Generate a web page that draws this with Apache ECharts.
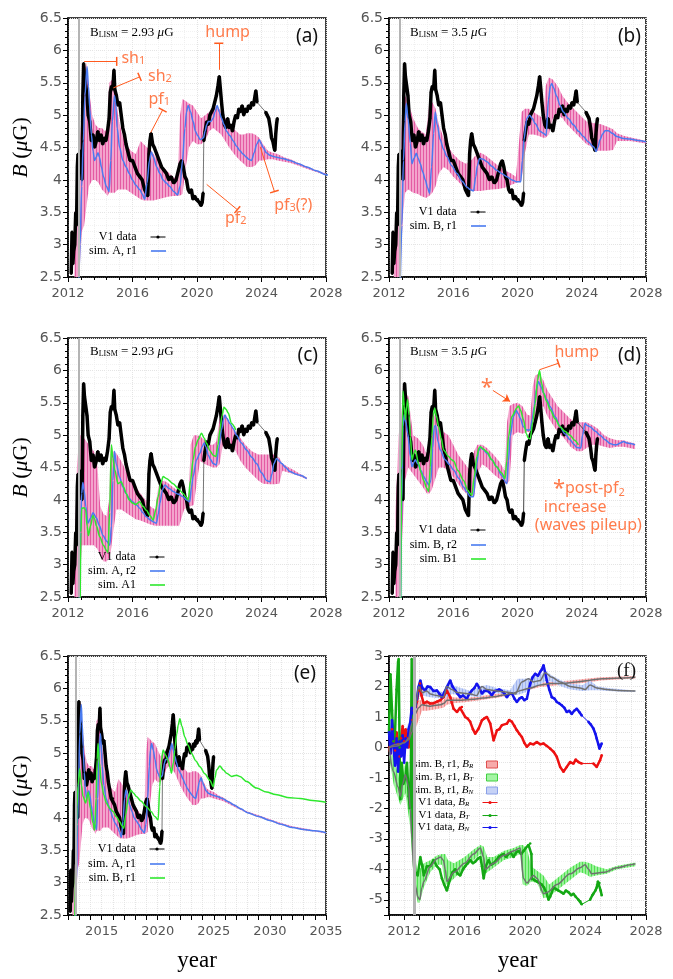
<!DOCTYPE html>
<html>
<head>
<meta charset="utf-8">
<script src="https://cdn.jsdelivr.net/npm/echarts@6/dist/echarts.min.js"></script>
<style>
html, body { margin: 0; padding: 0; background: #fff; }
#chart { width: 673px; height: 979px; }
</style>
</head>
<body>
<div id="chart"></div>
<script>
// V1 |B| data (muG), null marks a data gap
const v1Mag = [[2012.20,2.55],[2012.25,3.2],[2012.3,2.7],[2012.35,2.9],[2012.42,3.0],[2012.48,3.5],[2012.53,3.3],[2012.58,4.2],[2012.62,4.4],[2012.68,4.35],[2012.75,4.2],[2012.8,4.45],[2012.87,4.0],[2012.92,5.3],[2012.97,5.8],[2013.02,5.6],[2013.1,5.45],[2013.18,5.3],[2013.25,5.0],[2013.35,4.9],[2013.45,4.6],[2013.55,4.7],[2013.65,4.5],[2013.75,4.6],[2013.85,4.75],[2013.95,4.6],[2014.05,4.7],[2014.15,4.55],[2014.25,4.65],[2014.35,4.6],[2014.45,4.75],[2014.55,4.95],[2014.62,5.35],[2014.7,5.45],[2014.78,5.4],[2014.85,5.7],[2014.9,5.4],[2015.0,5.3],[2015.1,5.15],[2015.2,5.2],[2015.3,5.0],[2015.4,4.8],[2015.5,4.7],[2015.6,4.55],[2015.7,4.45],[2015.85,4.3],[2016.0,4.3],[2016.15,4.2],[2016.3,4.1],[2016.45,4.05],[2016.6,4.0],[2016.75,3.85],[2016.85,3.8],[2016.95,3.75],[2017.02,4.4],[2017.08,4.6],[2017.15,4.72],[2017.25,4.55],[2017.35,4.5],[2017.5,4.4],[2017.65,4.3],[2017.8,4.2],[2017.95,4.15],[2018.1,4.1],[2018.25,4.0],[2018.4,4.05],[2018.55,3.95],[2018.7,4.0],[2018.85,4.15],[2018.95,4.25],[2019.05,4.3],[2019.15,4.2],[2019.25,4.05],[2019.35,4.0],[2019.45,3.85],[2019.55,3.8],[2019.65,3.85],[2019.75,3.7],[2019.85,3.75],[2019.95,3.7],[2020.05,3.7],[2020.15,3.65],[2020.25,3.6],[2020.32,3.65],[2020.38,3.8],null,[2020.42,4.6],[2020.5,4.75],[2020.6,4.9],[2020.7,4.85],[2020.8,5.0],[2020.9,5.05],[2021.0,5.1],[2021.1,5.2],[2021.2,5.3],[2021.3,5.45],[2021.38,5.6],[2021.45,5.4],[2021.52,5.2],[2021.6,5.0],[2021.7,4.85],[2021.8,4.8],[2021.9,4.95],[2022.0,4.8],[2022.1,4.85],[2022.2,4.75],[2022.3,4.9],[2022.4,5.0],[2022.5,4.95],[2022.6,5.1],[2022.7,5.05],[2022.8,5.15],[2022.9,5.0],[2023.0,5.1],[2023.1,5.05],[2023.2,5.15],[2023.3,5.1],[2023.4,5.2],[2023.5,5.15],[2023.6,5.3],[2023.65,5.38],[2023.72,5.2],null,[2024.25,5.05],[2024.35,5.0],[2024.45,4.95],[2024.55,4.8],[2024.62,4.65],[2024.7,4.6],[2024.78,4.5],[2024.83,4.45],[2024.88,4.7],[2024.93,4.85],[2024.98,4.95]];

const hpCrossing = 2012.65;

// simulated |B| curves
const simAr1 = [[2012.66,2.3],[2012.75,3.0],[2012.85,3.9],[2012.95,4.6],[2013.05,5.3],[2013.18,5.75],[2013.27,5.45],[2013.35,5.1],[2013.45,4.7],[2013.55,4.45],[2013.65,4.3],[2013.75,4.35],[2013.86,4.42],[2013.95,4.35],[2014.07,4.2],[2014.2,4.05],[2014.38,3.9],[2014.55,3.82],[2014.65,4.3],[2014.75,4.9],[2014.88,5.3],[2014.95,5.2],[2015.05,4.8],[2015.2,4.5],[2015.4,4.3],[2015.6,4.2],[2015.8,4.1],[2016.0,4.0],[2016.2,3.92],[2016.45,3.85],[2016.6,3.78],[2016.76,3.7],[2016.9,3.95],[2017.05,4.3],[2017.17,4.43],[2017.3,4.35],[2017.5,4.2],[2017.7,4.1],[2017.9,4.0],[2018.1,3.95],[2018.3,3.9],[2018.55,3.82],[2018.8,3.77],[2018.95,3.9],[2019.1,4.3],[2019.25,4.8],[2019.35,5.05],[2019.45,5.15],[2019.6,5.05],[2019.76,4.9],[2019.9,4.75],[2020.05,4.68],[2020.2,4.62],[2020.4,4.65],[2020.5,4.75],[2020.6,4.85],[2020.7,4.9],[2020.85,4.9],[2021.0,4.95],[2021.12,5.05],[2021.25,5.15],[2021.38,5.05],[2021.52,4.95],[2021.68,4.85],[2021.83,4.75],[2022.05,4.68],[2022.25,4.6],[2022.45,4.52],[2022.66,4.45],[2022.85,4.4],[2023.07,4.35],[2023.2,4.32],[2023.38,4.3],[2023.55,4.42],[2023.7,4.55],[2023.86,4.62],[2024.0,4.55],[2024.1,4.5],[2024.3,4.42],[2024.52,4.38],[2024.75,4.36],[2024.93,4.35],[2025.3,4.33],[2025.76,4.3],[2026.3,4.25],[2026.8,4.2],[2027.4,4.14],[2028.0,4.08],[2029,4.02],[2030,3.96],[2031,3.9],[2032,3.85],[2033,3.82],[2034,3.8],[2035,3.77]];

const simBr1 = [[2012.7,2.4],[2012.8,3.3],[2012.9,4.3],[2013.0,4.9],[2013.08,5.18],[2013.18,4.95],[2013.33,4.56],[2013.43,4.25],[2013.55,4.33],[2013.7,4.41],[2013.82,4.33],[2013.95,4.25],[2014.1,4.12],[2014.26,4.0],[2014.4,3.88],[2014.53,3.79],[2014.65,4.2],[2014.78,4.72],[2014.88,5.05],[2015.0,4.85],[2015.19,4.62],[2015.4,4.47],[2015.6,4.36],[2015.9,4.22],[2016.23,4.1],[2016.55,3.98],[2016.85,3.89],[2017.05,3.85],[2017.26,3.83],[2017.4,4.05],[2017.5,4.22],[2017.64,4.33],[2017.85,4.32],[2018.1,4.28],[2018.4,4.21],[2018.7,4.15],[2019.0,4.1],[2019.34,4.05],[2019.65,4.0],[2019.96,3.97],[2020.2,3.97],[2020.3,4.3],[2020.4,4.62],[2020.58,4.95],[2020.75,5.0],[2020.92,4.95],[2021.1,4.87],[2021.4,4.75],[2021.6,4.72],[2021.78,4.69],[2021.93,5.24],[2022.05,5.45],[2022.13,5.49],[2022.25,5.42],[2022.44,5.29],[2022.65,5.15],[2022.86,5.05],[2023.15,4.95],[2023.48,4.85],[2023.8,4.75],[2024.1,4.67],[2024.4,4.59],[2024.73,4.51],[2024.9,4.44],[2025.0,4.5],[2025.14,4.62],[2025.3,4.71],[2025.45,4.76],[2025.66,4.76],[2025.9,4.72],[2026.18,4.67],[2026.6,4.64],[2027.0,4.63],[2027.5,4.61],[2028,4.59]];

const simAr2 = [[2012.7,2.3],[2012.78,3.5],[2012.85,4.1],[2012.92,4.27],[2013.0,4.15],[2013.1,3.9],[2013.24,3.64],[2013.4,3.72],[2013.55,3.8],[2013.76,3.72],[2013.95,3.6],[2014.17,3.45],[2014.4,3.36],[2014.59,3.3],[2014.7,3.6],[2014.78,4.3],[2014.88,4.75],[2015.0,4.55],[2015.2,4.35],[2015.4,4.2],[2015.6,4.1],[2015.8,4.02],[2016.0,3.97],[2016.25,3.92],[2016.45,3.87],[2016.65,3.8],[2016.86,3.74],[2017.1,3.69],[2017.3,3.66],[2017.48,3.64],[2017.6,3.78],[2017.7,3.95],[2017.85,4.15],[2018.0,4.23],[2018.25,4.18],[2018.52,4.13],[2018.8,4.09],[2019.14,4.05],[2019.35,4.0],[2019.55,3.97],[2019.66,4.2],[2019.76,4.36],[2019.97,4.62],[2020.18,4.72],[2020.32,4.82],[2020.45,4.88],[2020.55,4.82],[2020.7,4.69],[2020.85,4.62],[2021.0,4.56],[2021.2,4.54],[2021.35,4.8],[2021.52,5.08],[2021.65,5.25],[2021.73,5.31],[2021.85,5.26],[2022.04,5.18],[2022.25,5.1],[2022.45,5.0],[2022.75,4.88],[2023.07,4.77],[2023.4,4.66],[2023.69,4.56],[2024.0,4.42],[2024.31,4.3],[2024.52,4.28],[2024.65,4.4],[2024.77,4.56],[2024.93,4.64],[2025.1,4.6],[2025.25,4.56],[2025.5,4.5],[2025.76,4.44],[2026.1,4.4],[2026.38,4.38],[2026.8,4.33]];

const simA1 = [[2012.75,2.3],[2012.8,3.5],[2012.85,3.87],[2013.0,3.88],[2013.1,3.84],[2013.18,3.6],[2013.27,3.45],[2013.4,3.6],[2013.55,3.76],[2013.65,3.7],[2013.76,3.6],[2013.97,3.43],[2014.2,3.3],[2014.38,3.22],[2014.48,3.19],[2014.58,3.8],[2014.69,4.85],[2014.78,4.65],[2014.9,4.46],[2015.1,4.25],[2015.3,4.28],[2015.45,4.2],[2015.6,4.1],[2015.8,4.0],[2016.0,3.95],[2016.2,3.93],[2016.45,3.97],[2016.65,3.9],[2016.86,3.84],[2017.08,3.76],[2017.28,3.69],[2017.45,3.85],[2017.59,4.05],[2017.75,4.25],[2017.9,4.36],[2018.1,4.33],[2018.52,4.25],[2018.85,4.17],[2019.14,4.1],[2019.3,4.05],[2019.45,4.0],[2019.6,4.3],[2019.76,4.62],[2019.9,4.82],[2020.07,4.93],[2020.28,5.03],[2020.45,4.95],[2020.6,4.87],[2020.8,4.76],[2021.0,4.69],[2021.17,4.67],[2021.3,4.85],[2021.42,5.08],[2021.55,5.3],[2021.67,5.43],[2021.8,5.4],[2021.94,5.34],[2022.14,5.18],[2022.41,5.08]];

const simBr2 = [[2012.72,2.3],[2012.8,4.0],[2012.87,5.13],[2012.95,5.32],[2013.05,5.2],[2013.16,5.03],[2013.33,4.67],[2013.43,4.51],[2013.55,4.58],[2013.64,4.62],[2013.78,4.56],[2014.0,4.45],[2014.16,4.36],[2014.35,4.28],[2014.47,4.23],[2014.61,4.3],[2014.72,4.8],[2014.82,5.13],[2014.9,5.15],[2015.05,4.9],[2015.19,4.77],[2015.5,4.62],[2015.75,4.55],[2016.02,4.46],[2016.35,4.33],[2016.64,4.2],[2016.85,4.12],[2017.06,4.05],[2017.26,4.05],[2017.4,4.4],[2017.47,4.56],[2017.58,4.75],[2017.68,4.82],[2017.85,4.78],[2018.1,4.72],[2018.4,4.62],[2018.7,4.51],[2019.0,4.38],[2019.34,4.25],[2019.44,4.6],[2019.54,4.98],[2019.75,5.29],[2019.92,5.38],[2020.05,5.33],[2020.17,5.26],[2020.37,5.13],[2020.58,5.08],[2020.79,5.08],[2020.92,5.25],[2021.04,5.44],[2021.17,5.7],[2021.3,5.83],[2021.45,5.75],[2021.62,5.65],[2021.82,5.55],[2022.03,5.44],[2022.35,5.28],[2022.65,5.13],[2022.95,5.02],[2023.27,4.93],[2023.5,4.86],[2023.69,4.81],[2023.94,4.8],[2024.05,5.0],[2024.2,5.18],[2024.35,5.15],[2024.52,5.13],[2024.85,5.06],[2025.14,5.0],[2025.45,4.93],[2025.76,4.87],[2026.0,4.85],[2026.18,4.85],[2026.4,4.88],[2026.6,4.9],[2026.8,4.88],[2027.0,4.87],[2027.32,4.85]];

const simB1 = [[2012.72,2.3],[2012.8,4.5],[2012.87,5.68],[2012.95,5.45],[2013.02,5.24],[2013.1,5.45],[2013.16,5.55],[2013.25,5.3],[2013.33,4.98],[2013.43,4.62],[2013.55,4.72],[2013.64,4.77],[2013.84,4.56],[2014.0,4.42],[2014.16,4.3],[2014.35,4.18],[2014.47,4.13],[2014.57,4.5],[2014.67,4.98],[2014.76,5.3],[2014.84,5.42],[2014.95,5.3],[2015.09,5.13],[2015.25,4.95],[2015.4,4.77],[2015.71,4.67],[2015.9,4.62],[2016.02,4.6],[2016.3,4.45],[2016.64,4.3],[2016.9,4.15],[2017.06,4.1],[2017.16,4.07],[2017.3,4.35],[2017.47,4.67],[2017.6,4.8],[2017.68,4.82],[2017.9,4.78],[2018.1,4.74],[2018.4,4.62],[2018.7,4.51],[2019.0,4.42],[2019.23,4.33],[2019.33,4.6],[2019.44,4.98],[2019.65,5.29],[2019.96,5.42],[2020.06,5.45],[2020.2,5.38],[2020.37,5.24],[2020.55,5.02],[2020.68,4.95],[2020.79,4.94],[2020.95,5.2],[2021.1,5.49],[2021.25,5.85],[2021.37,6.0],[2021.5,5.8],[2021.62,5.65],[2021.82,5.52],[2022.03,5.39],[2022.35,5.25],[2022.65,5.13],[2022.95,5.06],[2023.27,5.0],[2023.55,4.92],[2023.79,4.85]];

const simBr1Long = [[2012.6,2.3],[2012.72,3.5],[2012.8,4.17],[2012.9,4.5],[2013.04,4.76],[2013.2,4.5],[2013.34,4.33],[2013.58,4.23],[2013.79,4.4],[2014.0,4.15],[2014.23,3.92],[2014.38,3.81],[2014.5,4.3],[2014.6,4.9],[2014.68,5.15],[2014.8,4.85],[2014.98,4.53],[2015.2,4.35],[2015.42,4.23],[2015.7,4.15],[2016.02,4.1],[2016.3,4.02],[2016.61,3.94],[2016.8,3.88],[2016.97,3.84],[2017.15,4.05],[2017.36,4.3],[2017.6,4.43],[2017.85,4.38],[2018.1,4.33],[2018.5,4.26],[2019.0,4.17],[2019.4,4.1],[2019.74,4.02],[2020.04,3.97],[2020.18,4.48],[2020.3,4.85],[2020.48,5.05],[2020.7,4.97],[2020.93,4.89],[2021.1,4.78],[2021.22,4.69],[2021.4,4.85],[2021.52,5.05],[2021.7,5.3],[2021.82,5.43],[2021.97,5.53],[2022.15,5.42],[2022.41,5.25],[2022.7,5.12],[2023.0,5.0],[2023.4,4.88],[2023.76,4.79],[2024.2,4.68],[2024.65,4.58],[2024.95,4.48],[2025.1,4.62],[2025.24,4.74],[2025.54,4.8],[2025.85,4.74],[2026.14,4.69],[2026.58,4.64],[2027.03,4.66],[2027.33,4.64],[2027.92,4.56],[2028.8,4.46],[2029.7,4.4],[2030.5,4.36],[2031.8,4.31],[2032.7,4.3],[2033.8,4.27],[2035,4.24]];

// simulation spread bands: [year, low, high]
const bandAr1 = [[2012.4,2.5,3.5],[2012.55,2.5,3.6],[2012.7,2.5,4.5],[2012.85,3.2,5.0],[2013.0,3.3,5.7],[2013.15,3.6,5.8],[2013.3,3.9,5.4],[2013.5,4.0,5.0],[2013.7,4.0,4.85],[2013.9,3.95,4.8],[2014.1,3.85,4.8],[2014.3,3.8,4.75],[2014.45,3.75,4.8],[2014.55,3.8,5.5],[2014.75,3.8,5.55],[2014.9,3.8,5.45],[2015.1,3.85,5.0],[2015.3,3.85,4.75],[2015.6,3.85,4.55],[2015.9,3.8,4.45],[2016.2,3.75,4.4],[2016.5,3.7,4.6],[2016.7,3.68,4.55],[2016.9,3.68,4.5],[2017.1,3.68,4.48],[2017.3,3.68,4.4],[2017.6,3.7,4.3],[2017.9,3.72,4.2],[2018.2,3.74,4.12],[2018.5,3.75,4.05],[2018.8,3.75,4.0],[2018.95,3.76,5.0],[2019.1,3.78,5.25],[2019.3,4.2,5.22],[2019.5,4.5,5.18],[2019.75,4.6,5.15],[2020.0,4.55,5.05],[2020.25,4.55,4.95],[2020.5,4.6,5.0],[2020.75,4.75,5.05],[2021.0,4.8,5.1],[2021.25,4.75,5.15],[2021.5,4.7,5.05],[2021.75,4.6,4.95],[2022.0,4.5,4.85],[2022.3,4.4,4.78],[2022.66,4.3,4.7],[2022.9,4.25,4.7],[2023.1,4.2,4.72],[2023.4,4.2,4.72],[2023.6,4.22,4.7],[2023.86,4.3,4.65],[2024.1,4.3,4.55],[2024.4,4.32,4.45],[2024.7,4.32,4.42],[2025.0,4.3,4.4],[2025.4,4.28,4.35],[2025.8,4.26,4.32],[2026.3,4.22,4.26],[2026.8,4.17,4.21],[2027.4,4.12,4.15],[2028,4.07,4.1],[2029,4.01,4.04],[2030,3.95,3.98],[2031,3.89,3.92],[2032,3.85,3.87],[2033,3.81,3.84],[2034,3.79,3.81],[2035,3.76,3.78]];

const bandBr1 = [[2012.3,2.5,2.7],[2012.5,2.5,3.5],[2012.7,2.5,4.5],[2012.85,3.4,5.2],[2013.0,3.8,5.3],[2013.2,3.85,5.2],[2013.5,3.8,4.95],[2013.8,3.78,4.8],[2014.0,3.75,4.75],[2014.3,3.72,4.7],[2014.5,3.75,5.18],[2014.7,3.8,5.2],[2014.9,3.9,5.1],[2015.1,4.1,4.85],[2015.4,4.2,4.65],[2015.7,4.15,4.5],[2016.0,4.05,4.4],[2016.4,3.95,4.3],[2016.8,3.85,4.25],[2017.1,3.83,4.3],[2017.4,3.83,4.38],[2017.7,3.83,4.42],[2018.0,3.84,4.38],[2018.4,3.85,4.3],[2018.8,3.86,4.22],[2019.2,3.88,4.15],[2019.6,3.92,4.1],[2019.9,3.95,4.05],[2020.1,3.97,4.6],[2020.25,4.0,5.05],[2020.45,4.4,5.1],[2020.7,4.7,5.1],[2021.0,4.7,5.05],[2021.3,4.68,5.0],[2021.6,4.65,4.95],[2021.75,4.65,5.45],[2021.95,4.7,5.58],[2022.2,4.95,5.55],[2022.5,5.0,5.45],[2022.8,4.95,5.3],[2023.1,4.85,5.2],[2023.5,4.75,5.1],[2023.9,4.65,5.0],[2024.3,4.55,4.9],[2024.7,4.5,4.88],[2024.9,4.45,4.87],[2025.2,4.45,4.86],[2025.6,4.45,4.82],[2025.95,4.46,4.78],[2026.2,4.6,4.72],[2026.6,4.6,4.68],[2027.0,4.6,4.66],[2027.5,4.58,4.63],[2028,4.56,4.6]];

const bandAr2 = [[2012.4,2.5,3.0],[2012.55,2.5,4.5],[2012.7,2.5,5.0],[2012.85,3.3,5.0],[2013.0,3.3,4.95],[2013.3,3.3,4.85],[2013.6,3.3,4.75],[2013.8,3.25,4.6],[2014.0,3.15,3.9],[2014.2,3.05,3.78],[2014.4,3.05,3.75],[2014.55,3.1,4.0],[2014.65,3.2,4.85],[2014.8,3.5,4.75],[2015.0,3.85,4.72],[2015.3,3.85,4.6],[2015.6,3.8,4.45],[2015.9,3.75,4.3],[2016.2,3.7,4.2],[2016.5,3.68,4.1],[2016.8,3.65,4.0],[2017.1,3.62,3.9],[2017.4,3.6,3.85],[2017.6,3.6,4.2],[2017.8,3.6,4.3],[2018.1,3.6,4.28],[2018.5,3.6,4.2],[2018.9,3.6,4.12],[2019.2,3.85,4.05],[2019.5,3.9,4.02],[2019.6,3.9,4.85],[2019.8,3.92,5.0],[2020.0,4.3,5.0],[2020.2,4.6,4.98],[2020.5,4.55,4.92],[2020.8,4.52,4.85],[2021.0,4.5,4.85],[2021.2,4.5,4.9],[2021.4,4.55,5.25],[2021.6,4.85,5.32],[2021.85,4.9,5.28],[2022.1,4.85,5.15],[2022.4,4.75,5.05],[2022.7,4.6,4.95],[2023.0,4.5,4.85],[2023.4,4.4,4.75],[2023.8,4.3,4.7],[2024.1,4.25,4.7],[2024.5,4.24,4.7],[2024.8,4.24,4.7],[2025.1,4.25,4.65],[2025.3,4.45,4.56],[2025.7,4.42,4.5],[2026.0,4.4,4.46],[2026.4,4.36,4.4],[2026.8,4.32,4.35]];

const bandBr2 = [[2012.4,2.5,3.8],[2012.6,2.5,5.0],[2012.75,3.0,5.3],[2012.85,3.6,5.6],[2013.0,4.3,5.65],[2013.2,4.5,5.6],[2013.5,4.4,5.0],[2013.8,4.3,4.95],[2014.1,4.2,4.85],[2014.36,4.1,4.7],[2014.5,4.1,4.95],[2014.65,4.15,5.35],[2014.85,4.3,5.3],[2015.1,4.5,5.15],[2015.4,4.5,5.05],[2015.7,4.45,5.0],[2016.0,4.35,4.85],[2016.3,4.25,4.7],[2016.6,4.15,4.6],[2016.9,4.08,4.5],[2017.1,4.05,4.45],[2017.3,4.05,4.75],[2017.5,4.4,4.85],[2017.8,4.55,4.85],[2018.1,4.5,4.8],[2018.5,4.4,4.7],[2018.9,4.32,4.58],[2019.2,4.25,4.45],[2019.35,4.25,5.2],[2019.5,4.3,5.45],[2019.7,5.0,5.48],[2020.0,5.05,5.5],[2020.3,5.02,5.45],[2020.6,5.05,5.32],[2020.8,5.05,5.3],[2020.95,5.05,5.75],[2021.1,5.1,5.92],[2021.35,5.4,5.95],[2021.6,5.45,5.85],[2021.85,5.3,5.7],[2022.1,5.2,5.6],[2022.5,5.05,5.45],[2022.9,4.95,5.35],[2023.3,4.82,5.25],[2023.7,4.75,5.2],[2024.0,4.75,5.2],[2024.3,4.8,5.2],[2024.7,4.85,5.15],[2025.0,4.85,5.1],[2025.4,4.82,5.0],[2025.76,4.8,4.95],[2026.2,4.82,4.92],[2026.6,4.82,4.92],[2027.0,4.8,4.89],[2027.32,4.78,4.87]];

// panel (f): field components
const v1BR = [[2011.0,0.0],[2011.1,-0.2],[2011.2,0.6],[2011.3,0.2],[2011.4,-0.1],[2011.5,0.5],[2011.6,0.1],[2011.7,-0.3],[2011.8,0.3],[2011.9,0.7],[2012.0,0.2],[2012.1,0.6],[2012.2,0.3],[2012.3,0.0],[2012.4,0.45],[2012.55,0.9],[2012.65,1.2],[2012.74,1.33],[2012.85,1.5],[2012.96,1.87],[2013.05,2.1],[2013.15,1.7],[2013.3,1.44],[2013.5,1.5],[2013.73,1.44],[2013.95,1.45],[2014.17,1.5],[2014.4,1.55],[2014.6,1.65],[2014.83,1.87],[2015.05,1.65],[2015.27,1.27],[2015.5,1.16],[2015.7,1.3],[2015.82,1.33],[2016.04,1.0],[2016.2,0.95],[2016.37,0.84],[2016.55,0.6],[2016.7,0.45],[2016.93,0.62],[2017.15,0.89],[2017.3,0.95],[2017.48,1.0],[2017.7,0.78],[2017.92,0.23],[2018.14,0.56],[2018.3,0.6],[2018.47,0.73],[2018.8,0.78],[2018.95,0.9],[2019.13,0.84],[2019.3,0.7],[2019.46,0.56],[2019.62,0.45],[2019.79,0.34],[2019.95,0.15],[2020.12,0.02],[2020.34,0.13],[2020.55,0.1],[2020.78,0.18],[2021.0,0.1],[2021.22,0.13],[2021.44,0.05],[2021.66,-0.04],[2021.9,-0.15],[2022.1,-0.31],[2022.32,-0.64],[2022.54,-0.8],[2022.76,-0.64],[2022.98,-0.48],[2023.2,-0.53],[2023.35,-0.4],[2023.53,-0.48],[2023.75,-0.53],null,[2024.52,-0.53],[2024.74,-0.64],[2024.96,-0.42],[2025.07,-0.26]];

const v1BT = [[2011.0,0.5],[2011.05,1.5],[2011.1,2.4],[2011.2,1.2],[2011.3,0.2],[2011.4,0.5],[2011.5,1.9],[2011.6,2.8],[2011.64,2.9],[2011.7,0.0],[2011.75,-1.7],[2011.85,-0.5],[2011.95,-1.2],[2012.08,-1.0],[2012.19,-0.5],[2012.3,-1.6],[2012.38,-2.0],[2012.45,-0.5],[2012.5,2.9],[2012.55,-2.5],[2012.63,-3.2],[2012.74,-4.1],[2012.9,-4.2],[2013.07,-3.6],[2013.2,-3.9],[2013.3,-4.2],[2013.51,-3.9],[2013.73,-3.9],[2013.95,-3.7],[2014.17,-3.9],[2014.35,-4.0],[2014.5,-4.3],[2014.65,-4.5],[2014.83,-4.7],[2015.05,-4.3],[2015.2,-4.1],[2015.38,-4.0],[2015.55,-4.15],[2015.71,-4.2],[2015.9,-4.0],[2016.04,-3.9],[2016.2,-3.8],[2016.37,-3.7],[2016.55,-3.8],[2016.7,-3.75],[2016.88,-3.65],[2017.04,-3.6],[2017.15,-3.9],[2017.26,-4.3],[2017.4,-3.9],[2017.59,-3.7],[2017.75,-3.85],[2017.92,-3.8],[2018.1,-3.7],[2018.25,-3.6],[2018.4,-3.55],[2018.58,-3.5],[2018.75,-3.6],[2018.9,-3.5],[2019.06,-3.45],[2019.24,-3.6],[2019.4,-3.45],[2019.57,-3.4],[2019.75,-3.5],[2019.9,-3.4],[2020.05,-3.3],[2020.23,-3.2],[2020.34,-3.15],[2020.42,-3.5],[2020.45,-4.3],[2020.6,-4.35],[2020.78,-4.4],[2020.95,-4.45],[2021.1,-4.5],[2021.25,-4.6],[2021.44,-4.8],[2021.55,-5.0],[2021.66,-4.9],[2021.88,-4.6],[2022.05,-4.65],[2022.21,-4.7],[2022.4,-4.75],[2022.54,-4.8],[2022.7,-4.7],[2022.87,-4.75],[2023.05,-4.85],[2023.2,-4.8],[2023.35,-4.9],[2023.53,-5.0],[2023.65,-5.05],[2023.75,-5.15],null,[2024.3,-5.0],[2024.45,-4.85],[2024.52,-4.8],[2024.65,-4.7],[2024.74,-4.6],[2024.82,-4.4],[2024.92,-4.45],[2025.0,-4.7],[2025.07,-4.85]];

const v1BN = [[2011.0,0.5],[2011.1,-0.2],[2011.2,0.9],[2011.3,0.0],[2011.4,-0.6],[2011.5,0.3],[2011.6,-0.8],[2011.7,0.2],[2011.8,-0.3],[2011.9,0.4],[2012.0,-0.5],[2012.1,0.3],[2012.2,0.0],[2012.3,0.6],[2012.4,0.8],[2012.5,1.3],[2012.63,1.1],[2012.74,1.33],[2012.85,1.6],[2012.96,1.98],[2013.07,2.2],[2013.2,1.95],[2013.4,1.87],[2013.55,2.0],[2013.73,1.98],[2013.95,1.85],[2014.17,1.87],[2014.35,1.75],[2014.5,1.65],[2014.65,1.8],[2014.83,1.98],[2015.05,2.2],[2015.2,2.0],[2015.38,1.87],[2015.55,1.75],[2015.71,1.65],[2015.9,1.7],[2016.15,1.6],[2016.3,1.75],[2016.48,1.87],[2016.65,1.95],[2016.81,2.09],[2016.98,1.95],[2017.15,1.77],[2017.3,1.85],[2017.48,1.87],[2017.65,1.8],[2017.8,1.71],[2018.0,1.85],[2018.14,1.87],[2018.3,1.9],[2018.47,1.85],[2018.65,1.75],[2018.8,1.65],[2018.95,1.75],[2019.13,1.77],[2019.3,1.6],[2019.46,1.49],[2019.62,1.6],[2019.79,1.65],[2019.95,1.55],[2020.12,1.6],[2020.25,1.9],[2020.34,2.09],[2020.5,2.3],[2020.67,2.42],[2020.85,2.35],[2021.0,2.48],[2021.1,2.55],[2021.22,2.7],[2021.33,2.45],[2021.44,2.2],[2021.6,1.9],[2021.77,1.65],[2021.95,1.6],[2022.1,1.49],[2022.25,1.45],[2022.43,1.38],[2022.6,1.3],[2022.76,1.16],[2022.92,1.2],[2023.09,1.1],[2023.25,1.2],[2023.42,1.27],[2023.6,1.15],[2023.75,1.05],null,[2024.19,0.84],[2024.35,0.75],[2024.52,0.62],[2024.65,0.45],[2024.74,0.29],[2024.85,0.1],[2024.92,-0.04],[2025.0,0.05],[2025.07,0.13]];

const simBR = [[2011.0,0.0],[2011.5,0.1],[2012.0,0.15],[2012.3,0.25],[2012.52,0.5],[2012.74,1.1],[2012.96,1.3],[2013.18,1.4],[2013.5,1.37],[2013.73,1.35],[2014.1,1.38],[2014.4,1.4],[2014.65,1.45],[2014.83,1.55],[2015.2,1.55],[2015.8,1.55],[2016.5,1.58],[2017.2,1.62],[2017.9,1.66],[2018.6,1.72],[2019.2,1.78],[2019.79,1.88],[2020.34,1.95],[2021.0,2.05],[2021.7,2.1],[2022.5,2.1],[2023.4,2.15],[2024.2,2.2],[2025.1,2.25],[2026.0,2.27],[2027.3,2.3]];
const simBT = [[2011.0,0.0],[2011.3,-0.8],[2011.6,-1.3],[2011.75,-1.6],[2011.9,-1.2],[2012.08,-0.9],[2012.3,-1.3],[2012.4,-2.0],[2012.52,-3.0],[2012.63,-4.0],[2012.78,-4.6],[2012.9,-4.9],[2013.03,-5.0],[2013.18,-4.6],[2013.3,-4.4],[2013.73,-3.9],[2014.17,-3.65],[2014.4,-3.6],[2014.6,-3.7],[2014.72,-4.0],[2014.83,-4.4],[2015.3,-4.1],[2016.0,-3.8],[2016.6,-3.5],[2017.04,-3.3],[2017.26,-3.6],[2017.36,-4.0],[2017.92,-3.8],[2018.58,-3.55],[2019.24,-3.4],[2019.68,-3.3],[2019.9,-4.3],[2020.12,-4.45],[2020.56,-4.2],[2020.8,-4.3],[2021.22,-4.8],[2021.5,-4.75],[2022.1,-4.5],[2022.98,-4.15],[2023.64,-3.95],[2023.97,-3.85],[2024.2,-4.0],[2024.41,-4.15],[2025.2,-4.1],[2026.1,-3.95],[2026.97,-3.85],[2027.3,-3.82]];
const simBN = [[2011.0,0.0],[2011.53,0.05],[2012.0,0.15],[2012.3,0.3],[2012.52,0.8],[2012.74,1.3],[2012.96,2.0],[2013.2,1.8],[2013.5,1.85],[2013.73,1.75],[2014.17,1.7],[2014.6,1.65],[2014.83,2.0],[2015.15,1.9],[2015.5,1.8],[2016.4,1.75],[2016.8,1.7],[2017.15,2.0],[2017.48,1.9],[2018.14,1.85],[2019.0,1.8],[2019.35,1.75],[2019.79,2.15],[2020.23,2.25],[2020.56,2.15],[2021.0,2.2],[2021.33,2.45],[2021.77,2.3],[2022.32,2.15],[2022.98,2.0],[2023.64,1.95],[2023.97,1.9],[2024.3,2.05],[2024.74,1.95],[2025.4,1.9],[2026.1,1.87],[2027.3,1.85]];

const bandBR = [[2011.0,-0.15,0.1],[2011.5,-0.05,0.2],[2012.0,0.0,0.3],[2012.3,0.1,0.45],[2012.52,0.3,0.8],[2012.74,0.6,1.4],[2012.96,0.9,1.55],[2013.18,1.2,1.55],[2013.5,1.2,1.5],[2014.1,1.25,1.5],[2014.6,1.3,1.55],[2014.83,1.4,1.7],[2015.2,1.45,1.65],[2016.0,1.48,1.62],[2017.0,1.55,1.68],[2018.0,1.62,1.75],[2019.0,1.7,1.82],[2019.79,1.8,1.95],[2020.34,1.9,2.02],[2021.0,1.98,2.12],[2022.0,2.03,2.16],[2023.0,2.07,2.2],[2024.0,2.12,2.25],[2025.0,2.2,2.3],[2026.0,2.23,2.32],[2027.3,2.26,2.34]];
const bandBT = [[2011.0,-0.3,0.3],[2011.3,-1.2,-0.3],[2011.75,-1.9,-1.2],[2012.08,-1.5,-0.5],[2012.4,-2.6,-1.5],[2012.63,-4.4,-3.0],[2012.9,-5.1,-4.2],[2013.03,-5.1,-4.0],[2013.3,-4.6,-3.8],[2013.73,-4.1,-3.7],[2014.17,-3.85,-3.55],[2014.5,-3.85,-3.5],[2014.72,-4.5,-3.5],[2014.9,-4.5,-3.7],[2015.3,-4.3,-3.8],[2016.0,-3.95,-3.6],[2016.6,-3.7,-3.35],[2017.04,-3.5,-3.2],[2017.26,-4.2,-3.25],[2017.5,-4.1,-3.6],[2017.92,-3.95,-3.6],[2018.58,-3.7,-3.4],[2019.24,-3.6,-3.3],[2019.68,-3.5,-3.2],[2019.85,-4.5,-3.2],[2020.12,-4.55,-3.3],[2020.4,-4.4,-3.9],[2020.8,-4.45,-4.05],[2021.22,-4.95,-4.2],[2021.6,-4.9,-4.5],[2022.1,-4.7,-4.3],[2022.98,-4.35,-3.95],[2023.64,-4.1,-3.75],[2023.97,-4.15,-3.75],[2024.3,-4.25,-3.8],[2024.7,-4.2,-3.9],[2025.4,-4.15,-4.0],[2026.1,-4.0,-3.88],[2027.3,-3.9,-3.78]];
const bandBN = [[2011.0,-0.3,0.3],[2011.5,-0.2,0.3],[2012.0,-0.1,0.5],[2012.3,0.1,0.8],[2012.52,0.4,1.3],[2012.74,1.0,1.8],[2012.96,1.7,2.15],[2013.2,1.7,2.0],[2013.73,1.65,1.95],[2014.6,1.6,1.8],[2014.83,1.65,2.1],[2015.15,1.75,2.05],[2016.4,1.68,1.85],[2017.0,1.65,2.0],[2017.48,1.8,2.05],[2018.14,1.78,1.95],[2019.0,1.72,1.88],[2019.5,1.72,2.25],[2020.0,1.8,2.25],[2020.5,2.0,2.3],[2021.0,2.05,2.4],[2021.4,2.2,2.5],[2021.8,2.15,2.35],[2022.4,2.0,2.2],[2023.0,1.9,2.1],[2023.8,1.85,2.05],[2024.3,1.88,2.2],[2024.8,1.88,2.0],[2025.5,1.85,1.95],[2026.5,1.83,1.9],[2027.3,1.82,1.87]];

// annotations: [year, value, rich text]
const notesA = [[2016.05,5.87,'{m|sh}{s|1}'],[2017.7,5.6,'{m|sh}{s|2}'],[2017.66,5.24,'{m|pf}{s|1}'],[2021.9,6.27,'{m|hump}'],[2022.4,3.4,'{m|pf}{s|2}'],[2025.97,3.61,'{m|pf}{s|3}{m|(?)}']];
const arrowsA = [[2013.0,5.83,2015.02,5.83,'bar'],[2014.81,5.42,2016.44,5.59,'bar'],[2017.13,4.73,2017.87,5.08,'bar'],[2021.35,5.7,2021.35,6.11,'bar'],[2020.6,3.93,2022.5,3.54,'bar'],[2023.92,4.51,2024.8,3.82,'bar']];
const notesD = [[2023.69,6.27,'{m|hump}'],[2018.09,5.74,'{b|*}'],[2024.44,4.18,'{b|*}{m|post-pf}{s|2}'],[2023.59,3.89,'{m|increase}'],[2024.41,3.61,'{m|(waves pileup)}']];
const arrowsD = [[2021.37,6.01,2022.55,6.11,'bar'],[2018.47,5.69,2019.54,5.52,'arrow']];

const ORANGE = '#ff5a1e';
const BLUE = '#4a7bf0';
const GREEN = '#2ee82e';
const SERIF = 'Liberation Serif';
const SANS = 'DejaVu Sans';

function stripes(dark, light) {
    const c = document.createElement('canvas');
    c.width = 3;
    c.height = 1;
    const g = c.getContext('2d');
    g.fillStyle = light;
    g.fillRect(0, 0, 3, 1);
    g.fillStyle = dark;
    g.fillRect(0, 0, 1, 1);
    return { image: c, repeat: 'repeat' };
}
const pinkFill = stripes('#e45aa3', '#f3a3cc');

function lineData(arr) {
    return arr.map((p, k) => (p === null ? [arr[k - 1][0], '-'] : p));
}
function gapLinks(arr) {
    const out = [];
    arr.forEach((p, k) => {
        if (p === null) out.push(arr[k - 1], arr[k + 1], [arr[k + 1][0], '-']);
    });
    return out;
}

function band(name, arr, i, fill, maxX) {
    const pts = arr.filter(d => d[0] <= maxX + 0.5);
    return {
        type: 'custom', name, xAxisIndex: i, yAxisIndex: i, clip: true, silent: true, z: 1,
        dimensions: ['t', 'lo', 'hi'],
        encode: { x: 0, y: [1, 2] },
        data: pts,
        renderItem: (params, api) => {
            if (params.dataIndex !== 0) return null;
            const top = pts.map(d => api.coord([d[0], d[2]]));
            const bot = pts.map(d => api.coord([d[0], d[1]])).reverse();
            return { type: 'polygon', shape: { points: top.concat(bot) }, style: { fill } };
        }
    };
}
function simLine(name, data, i, color, width) {
    return {
        type: 'line', name, data, xAxisIndex: i, yAxisIndex: i, z: 4,
        symbol: 'none', smooth: 0.3, smoothMonotone: 'x',
        lineStyle: { color, width: width || 1.5 }, itemStyle: { color }
    };
}
function dataLine(name, arr, i, color, width, hp) {
    const s = {
        type: 'line', name, data: lineData(arr), xAxisIndex: i, yAxisIndex: i, z: 3,
        symbol: 'circle', symbolSize: 2.5, showSymbol: true,
        lineStyle: { color, width }, itemStyle: { color }
    };
    if (hp) {
        s.markLine = {
            silent: true, symbol: ['none', 'none'], label: { show: false },
            lineStyle: { color: '#b4b4b4', width: hp, type: 'solid' },
            data: [{ xAxis: hpCrossing }]
        };
    }
    return s;
}
function links(arr, i, color) {
    return {
        type: 'line', name: 'gap', data: gapLinks(arr), xAxisIndex: i, yAxisIndex: i, z: 3,
        symbol: 'none', lineStyle: { color, width: 1 }
    };
}
const noteRich = {
    m: { fontFamily: 'Noto Sans', fontSize: 16, color: ORANGE },
    s: { fontFamily: 'Noto Sans', fontSize: 11, color: ORANGE, verticalAlign: 'bottom', lineHeight: 11 },
    b: { fontFamily: 'Noto Sans', fontSize: 22, color: ORANGE, verticalAlign: 'top', lineHeight: 20 }
};
function notes(i, list, arrows) {
    return {
        type: 'scatter', name: 'notes', xAxisIndex: i, yAxisIndex: i, z: 10, silent: true,
        symbolSize: 1, itemStyle: { color: 'rgba(0,0,0,0)' },
        data: list.map(d => ({ value: [d[0], d[1]], label: { formatter: d[2] } })),
        label: { show: true, position: 'inside', rich: noteRich },
        markLine: {
            silent: true, label: { show: false }, animation: false,
            lineStyle: { color: ORANGE, width: 1, type: 'solid' },
            data: arrows.map(a => [
                { coord: [a[0], a[1]], symbol: 'none' },
                { coord: [a[2], a[3]], symbol: a[4] === 'bar' ? 'rect' : 'arrow', symbolSize: a[4] === 'bar' ? [9, 1.5] : 7 }
            ])
        }
    };
}

const grids = [
    { left: 68, top: 18, width: 258, height: 259 },
    { left: 389, top: 18, width: 257, height: 259 },
    { left: 68, top: 338, width: 258, height: 259 },
    { left: 389, top: 338, width: 257, height: 259 },
    { left: 68, top: 656, width: 258, height: 259 },
    { left: 389, top: 656, width: 257, height: 259 }
].map(g => Object.assign({ show: true, borderColor: '#000', borderWidth: 1.5 }, g));

function xAx(i, min, max, interval, minor, every, name) {
    return {
        type: 'value', gridIndex: i, min, max, interval,
        name: name || '', nameLocation: 'middle', nameGap: 34,
        nameTextStyle: { fontFamily: SERIF, fontSize: 23, color: '#000' },
        axisLine: { show: true, onZero: false, lineStyle: { color: '#000', width: 1.5 } },
        axisTick: { show: true, length: 5, lineStyle: { color: '#000' } },
        minorTick: { show: minor > 0, splitNumber: minor || 5, length: 3, lineStyle: { color: '#000' } },
        axisLabel: {
            color: '#555', fontSize: 13, fontFamily: SANS, margin: 10,
            formatter: v => (every ? (Math.round(v) % every === 0 ? String(Math.round(v)) : '') : String(v))
        },
        splitLine: { show: true, lineStyle: { color: '#e4e4e4', type: 'dotted' } },
        minorSplitLine: { show: minor > 0, lineStyle: { color: '#efefef', type: 'dotted' } }
    };
}
function yAx(i, min, max, interval, minor, intOnly, named) {
    return {
        type: 'value', gridIndex: i, min, max, interval,
        name: named ? '{i|B} ({i|μ}G)' : '', nameLocation: 'middle', nameGap: 36, nameRotate: 90,
        nameTextStyle: { fontFamily: SERIF, fontSize: 22, color: '#000', rich: { i: { fontFamily: SERIF, fontSize: 22, fontStyle: 'italic', color: '#000' } } },
        axisLine: { show: true, onZero: false, lineStyle: { color: '#000', width: 1.5 } },
        axisTick: { show: true, length: 5, lineStyle: { color: '#000' } },
        minorTick: { show: true, splitNumber: minor, length: 3, lineStyle: { color: '#000' } },
        axisLabel: {
            color: '#555', fontSize: 14, fontFamily: SANS, margin: 6,
            formatter: v => (intOnly ? (Math.abs(v - Math.round(v)) < 1e-6 ? String(Math.round(v)) : '') : String(v))
        },
        splitLine: { show: true, lineStyle: { color: '#e4e4e4', type: 'dotted' } },
        minorSplitLine: { show: true, lineStyle: { color: '#f2f2f2', type: 'dotted' } }
    };
}

const xAxes = [
    xAx(0, 2012, 2028, 4, 5), xAx(1, 2012, 2028, 4, 5),
    xAx(2, 2012, 2028, 4, 5), xAx(3, 2012, 2028, 4, 5),
    xAx(4, 2012, 2035, 1, 0, 5, 'year'), xAx(5, 2011, 2028, 1, 0, 4, 'year')
];
const yAxes = [
    yAx(0, 2.5, 6.5, 0.5, 5, false, true), yAx(1, 2.5, 6.5, 0.5, 5, false, false),
    yAx(2, 2.5, 6.5, 0.5, 5, false, true), yAx(3, 2.5, 6.5, 0.5, 5, false, false),
    yAx(4, 2.5, 6.5, 0.5, 5, false, true), yAx(5, -5.5, 3, 0.5, 2, true, false)
];

const series = [
    // (a)
    band('band A r1', bandAr1, 0, pinkFill, 2028),
    dataLine('V1 data', v1Mag, 0, '#000', 3.5, 2),
    links(v1Mag, 0, '#777'),
    simLine('sim. A, r1', simAr1, 0, BLUE),
    notes(0, notesA, arrowsA),
    // (b)
    band('band B r1', bandBr1, 1, pinkFill, 2028),
    dataLine('V1 data', v1Mag, 1, '#000', 3.5, 2),
    links(v1Mag, 1, '#777'),
    simLine('sim. B, r1', simBr1, 1, BLUE),
    // (c)
    band('band A r2', bandAr2, 2, pinkFill, 2028),
    dataLine('V1 data', v1Mag, 2, '#000', 3.5, 2),
    links(v1Mag, 2, '#777'),
    simLine('sim. A, r2', simAr2, 2, BLUE),
    simLine('sim. A1', simA1, 2, GREEN),
    // (d)
    band('band B r2', bandBr2, 3, pinkFill, 2028),
    dataLine('V1 data', v1Mag, 3, '#000', 3.5, 2),
    links(v1Mag, 3, '#444'),
    simLine('sim. B, r2', simBr2, 3, BLUE),
    simLine('sim. B1', simB1, 3, GREEN),
    notes(3, notesD, arrowsD),
    // (e)
    band('band A r1 e', bandAr1, 4, pinkFill, 2035),
    dataLine('V1 data', v1Mag, 4, '#000', 3.5, 2),
    links(v1Mag, 4, '#777'),
    simLine('sim. A, r1', simAr1, 4, BLUE),
    simLine('sim. B, r1 (e)', simBr1Long, 4, GREEN),
    // (f)
    band('sim. B, r1, BR', bandBR, 5, stripes('#f08a8a', '#f8bcbc'), 2028),
    band('sim. B, r1, BT', bandBT, 5, stripes('#4ee04e', '#9af29a'), 2028),
    band('sim. B, r1, BN', bandBN, 5, stripes('#9fb4ef', '#c9d5f7'), 2028),
    dataLine('V1 data, BR', v1BR, 5, '#ee1111', 2.5, 3),
    links(v1BR, 5, '#ee1111'),
    dataLine('V1 data, BT', v1BT, 5, '#14a814', 2.5),
    links(v1BT, 5, '#14a814'),
    dataLine('V1 data, BN', v1BN, 5, '#1414ee', 2.5),
    links(v1BN, 5, '#1414ee'),
    simLine('grey BR', simBR, 5, '#707070', 1.5),
    simLine('grey BT', simBT, 5, '#707070', 1.5),
    simLine('grey BN', simBN, 5, '#707070', 1.5)
];

const legRich = {
    n: { fontFamily: SERIF, fontSize: 11, color: '#000' },
    i: { fontFamily: SERIF, fontSize: 11, fontStyle: 'italic', color: '#000' },
    s: { fontFamily: SERIF, fontSize: 7, fontStyle: 'italic', color: '#000', verticalAlign: 'bottom', lineHeight: 8 }
};
// kind: 'data' (line with small dot), 'line' (plain line), 'rect' (filled box)
function leg(name, right, top, kind, color, fmt, border, size) {
    const item = { name };
    let w = 15, h = 4;
    if (kind === 'line') {
        item.icon = 'rect';
        item.itemStyle = { color, borderWidth: 0 };
        h = 1.6;
    } else if (kind === 'rect') {
        item.icon = 'rect';
        item.itemStyle = { color, borderColor: border, borderWidth: 1 };
        w = 11;
        h = 7;
    } else {
        item.lineStyle = { color, width: 1 };
        item.itemStyle = { color };
    }
    return {
        data: [item],
        right, top, orient: 'vertical', align: 'right', selectedMode: false,
        itemWidth: w, itemHeight: h, padding: 0,
        formatter: () => (fmt || name) + '   ',
        textStyle: { fontFamily: SERIF, fontSize: size || 12, color: '#000', rich: legRich }
    };
}
const legends = [
    leg('V1 data', 507, 231, 'data', '#000'), leg('sim. A, r1', 507, 245, 'line', BLUE),
    leg('V1 data', 187, 206, 'data', '#000'), leg('sim. B, r1', 187, 220, 'line', BLUE),
    leg('V1 data', 508, 551, 'data', '#000'), leg('sim. A, r2', 508, 565, 'line', BLUE), leg('sim. A1', 508, 579, 'line', GREEN),
    leg('V1 data', 187, 524, 'data', '#000'), leg('sim. B, r2', 187, 539, 'line', BLUE), leg('sim. B1', 187, 553, 'line', GREEN),
    leg('V1 data', 508, 843, 'data', '#000'), leg('sim. A, r1', 508, 858, 'line', BLUE), leg('sim. B, r1 (e)', 508, 872, 'line', GREEN, 'sim. B, r1', null, 12),
    leg('sim. B, r1, BR', 175, 759, 'rect', '#f7aaaa', '{n|sim. B, r1, }{i|B}{s|R}', '#e05050', 11),
    leg('sim. B, r1, BT', 175, 772, 'rect', '#a4f4a4', '{n|sim. B, r1, }{i|B}{s|T}', '#40d040', 11),
    leg('sim. B, r1, BN', 175, 785, 'rect', '#c6d2f6', '{n|sim. B, r1, }{i|B}{s|N}', '#8aa0e8', 11),
    leg('V1 data, BR', 175, 797, 'data', '#ee1111', '{n|V1 data, }{i|B}{s|R}', null, 11),
    leg('V1 data, BT', 175, 810, 'data', '#14a814', '{n|V1 data, }{i|B}{s|T}', null, 11),
    leg('V1 data, BN', 175, 822, 'data', '#1414ee', '{n|V1 data, }{i|B}{s|N}', null, 11)
];

const lismRich = {
    t: { fontFamily: SERIF, fontSize: 13, fontWeight: 'normal', color: '#000' },
    s: { fontFamily: SERIF, fontSize: 8, fontWeight: 'normal', color: '#000', verticalAlign: 'bottom', lineHeight: 9 },
    i: { fontFamily: SERIF, fontSize: 13, fontWeight: 'normal', fontStyle: 'italic', color: '#000' }
};
function lism(value, left, top) {
    return {
        text: '{t|B}{s|LISM}{t| = ' + value + ' }{i|μ}{t|G}', left, top, padding: 0,
        textStyle: { fontWeight: 'normal', fontFamily: SERIF, fontSize: 13, rich: lismRich }
    };
}
function tag(text, right, top, font) {
    return { text, right, top, padding: 0, textStyle: { fontFamily: font || 'Noto Sans', fontSize: 19, fontWeight: 'normal', color: '#111' } };
}
const titles = [
    tag('(a)', 355, 27), tag('(b)', 32, 27), tag('(c)', 355, 346), tag('(d)', 32, 346),
    tag('(e)', 357, 664), tag('(f)', 37, 662, SERIF),
    lism('2.93', 90, 26), lism('3.5', 410, 26), lism('2.93', 90, 345), lism('3.5', 410, 345)
];

const chart = echarts.init(document.getElementById('chart'), null, { width: 673, height: 979 });
chart.setOption({
    animation: false,
    backgroundColor: '#fff',
    title: titles,
    legend: legends,
    grid: grids,
    xAxis: xAxes,
    yAxis: yAxes,
    series
});
</script>
</body>
</html>
